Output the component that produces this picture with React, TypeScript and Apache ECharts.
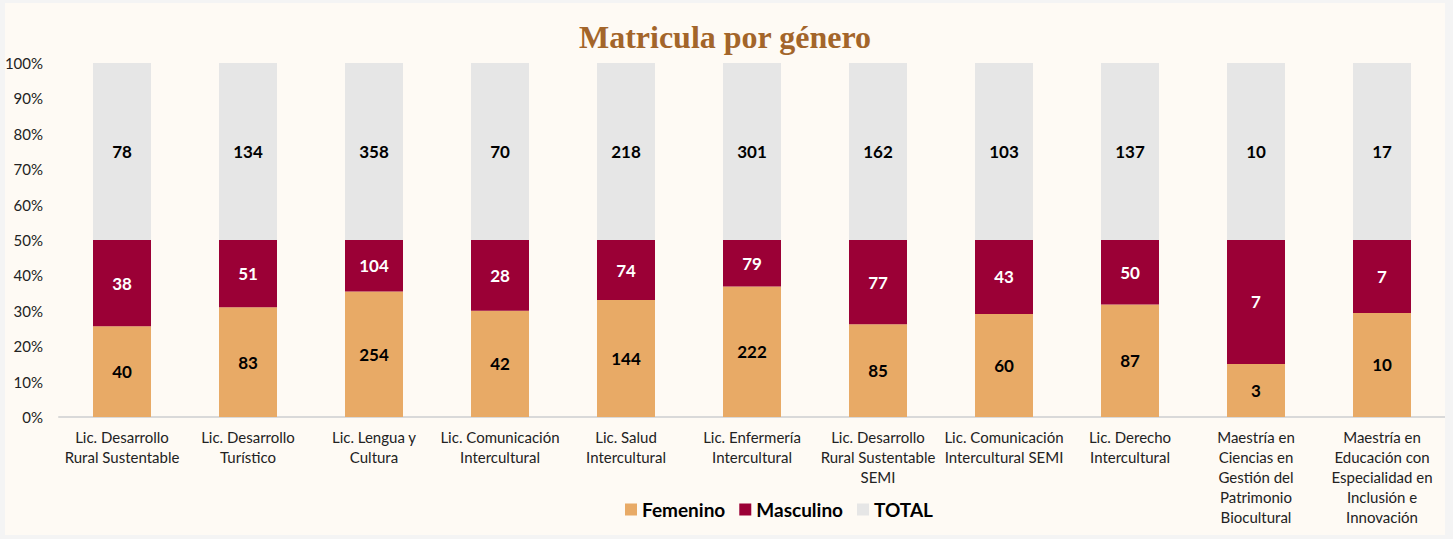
import React, { useEffect, useRef } from "react";
import * as echarts from "echarts";

const categories = [
  "Lic. Desarrollo\nRural Sustentable",
  "Lic. Desarrollo\nTurístico",
  "Lic. Lengua y\nCultura",
  "Lic. Comunicación\nIntercultural",
  "Lic. Salud\nIntercultural",
  "Lic. Enfermería\nIntercultural",
  "Lic. Desarrollo\nRural Sustentable\nSEMI",
  "Lic. Comunicación\nIntercultural SEMI",
  "Lic. Derecho\nIntercultural",
  "Maestría en\nCiencias en\nGestión del\nPatrimonio\nBiocultural",
  "Maestría en\nEducación con\nEspecialidad en\nInclusión e\nInnovación",
];
const femenino = [40, 83, 254, 42, 144, 222, 85, 60, 87, 3, 10];
const masculino = [38, 51, 104, 28, 74, 79, 77, 43, 50, 7, 7];
const total = [78, 134, 358, 70, 218, 301, 162, 103, 137, 10, 17];
const yTicks = [0, 0.1, 0.2, 0.3, 0.4, 0.5, 0.6, 0.7, 0.8, 0.9, 1];

const FONT = "Lato, 'Open Sans', sans-serif";

export default function App() {
  const ref = useRef<HTMLDivElement>(null);
  useEffect(() => {
    document.body.style.margin = "0";
    document.body.style.background = "#F4F4F4";
    const chart = echarts.init(ref.current!, undefined, { renderer: "svg" });
    const sums = femenino.map((f, i) => f + masculino[i] + total[i]);
    const pct = (arr: number[]) => arr.map((v, i) => v / sums[i]);
    const raws = [femenino, masculino, total];
    const labelFor = (k: number, color: string) => ({
      show: true,
      position: "inside",
      color,
      fontFamily: FONT,
      fontWeight: "bold",
      fontSize: 17,
      formatter: (p: any) => String(raws[k][p.dataIndex]),
    });
    chart.setOption({
      animation: false,
      backgroundColor: "#FEFAF4",
      title: {
        text: "Matricula por género",
        left: "center",
        top: 13,
        textStyle: {
          fontFamily: "'Liberation Serif', 'DejaVu Serif', serif",
          fontWeight: "bold",
          fontSize: 32,
          color: "#A3652A",
        },
      },
      legend: {
        bottom: 11,
        left: 615,
        icon: "rect",
        itemWidth: 12,
        itemHeight: 12,
        itemGap: 14,
        textStyle: { fontFamily: FONT, fontWeight: "bold", fontSize: 19, color: "#000" },
        data: ["Femenino", "Masculino", "TOTAL"],
      },
      grid: { left: 54, right: 0, top: 60, height: 354, containLabel: false, outerBoundsMode: "none" },
      xAxis: {
        type: "category",
        data: categories,
        axisTick: { show: false },
        axisLine: { lineStyle: { color: "#D9D9D9", width: 2 } },
        axisLabel: {
          interval: 0,
          fontFamily: FONT,
          fontSize: 15,
          color: "#222",
          lineHeight: 20,
          margin: 10,
        },
      },
      yAxis: {
        type: "value",
        min: 0,
        max: 1,
        interval: 0.1,
        splitLine: { show: false },
        axisLine: { show: false },
        axisLabel: {
          fontFamily: FONT,
          fontSize: 15,
          color: "#222",
          margin: 16,
          formatter: (v: number) => {
            const t = yTicks.find((x) => Math.abs(x - v) < 1e-6);
            return Math.round((t ?? v) * 100) + "%";
          },
        },
      },
      series: [
        {
          name: "Femenino",
          type: "bar",
          stack: "s",
          barWidth: 58,
          data: pct(femenino),
          itemStyle: { color: "#E8AA66" },
          label: labelFor(0, "#000"),
        },
        {
          name: "Masculino",
          type: "bar",
          stack: "s",
          barWidth: 58,
          data: pct(masculino),
          itemStyle: { color: "#9B0036" },
          label: labelFor(1, "#fff"),
        },
        {
          name: "TOTAL",
          type: "bar",
          stack: "s",
          barWidth: 58,
          data: pct(total),
          itemStyle: { color: "#E6E6E6" },
          label: labelFor(2, "#000"),
        },
      ],
    });
    return () => chart.dispose();
  }, []);
  return (
    <div style={{ width: 1453, height: 539, position: "relative", background: "#F4F4F4" }}>
      <div
        ref={ref}
        style={{ position: "absolute", left: 5, top: 3, width: 1440, height: 532 }}
      />
    </div>
  );
}
